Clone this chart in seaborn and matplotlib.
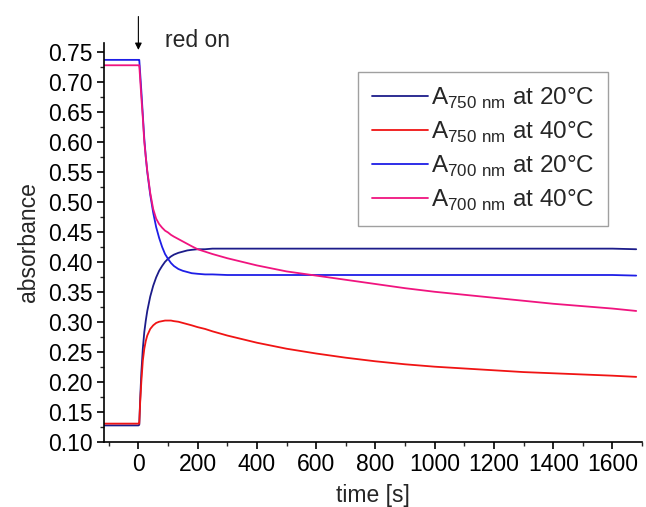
import matplotlib
matplotlib.use("Agg")
import matplotlib.pyplot as plt
from matplotlib.ticker import MultipleLocator, FormatStrFormatter
import seaborn as sns
import pandas as pd

time_s = [-116, -60, 0, 3, 6, 10, 15, 20, 25, 30, 40, 50, 60, 70, 80, 90, 100, 110, 120, 135,
          150, 165, 180, 200, 225, 250, 300, 350,
          400, 500, 600, 700, 800, 900, 1000, 1100, 1200, 1300, 1400, 1500, 1600, 1680]

a750_20 = [0.127, 0.127, 0.127, 0.128, 0.17, 0.215, 0.255, 0.283, 0.302, 0.318, 0.342, 0.36,
           0.374, 0.385, 0.393, 0.40, 0.405, 0.409, 0.412, 0.415, 0.417, 0.419, 0.420, 0.421,
           0.421, 0.422, 0.422, 0.422,
           0.422, 0.422, 0.422, 0.422, 0.422, 0.422, 0.422, 0.422, 0.422, 0.422, 0.422, 0.422,
           0.422, 0.421]
a750_40 = [0.13, 0.13, 0.13, 0.13, 0.165, 0.20, 0.235, 0.255, 0.268, 0.277, 0.288, 0.294,
           0.298, 0.300, 0.301, 0.302, 0.302, 0.302, 0.301, 0.300, 0.298, 0.296, 0.294, 0.291,
           0.288, 0.284, 0.277, 0.271,
           0.265, 0.255, 0.247, 0.240, 0.234, 0.229, 0.225, 0.222, 0.219, 0.216, 0.214, 0.212,
           0.210, 0.208]
a700_20 = [0.737, 0.737, 0.737, 0.737, 0.715, 0.685, 0.645, 0.605, 0.575, 0.55, 0.512, 0.482,
           0.458, 0.44, 0.425, 0.413, 0.405, 0.398, 0.393, 0.388, 0.385, 0.383, 0.381, 0.380,
           0.379, 0.379, 0.378, 0.378,
           0.378, 0.378, 0.378, 0.378, 0.378, 0.378, 0.378, 0.378, 0.378, 0.378, 0.378, 0.378,
           0.378, 0.377]
a700_40 = [0.728, 0.728, 0.728, 0.728, 0.705, 0.675, 0.64, 0.60, 0.575, 0.552, 0.515, 0.488,
           0.472, 0.463, 0.457, 0.452, 0.449, 0.445, 0.442, 0.438, 0.434, 0.430, 0.426, 0.421,
           0.417, 0.413, 0.406, 0.400,
           0.394, 0.384, 0.377, 0.370, 0.363, 0.356, 0.350, 0.345, 0.340, 0.335, 0.330, 0.326,
           0.322, 0.318]

labels = [r"A$_\mathregular{750\ nm}$ at 20°C", r"A$_\mathregular{750\ nm}$ at 40°C",
          r"A$_\mathregular{700\ nm}$ at 20°C", r"A$_\mathregular{700\ nm}$ at 40°C"]
colors = ["#1c1c8a", "#f01414", "#1e1ee6", "#f0147f"]

frames = []
for lab, vals in zip(labels, [a750_20, a750_40, a700_20, a700_40]):
    frames.append(pd.DataFrame({"time": time_s, "absorbance": vals, "series": lab}))
df = pd.concat(frames, ignore_index=True)

sns.set_style("ticks")
plt.rcParams["font.family"] = ["Liberation Sans", "DejaVu Sans"]
plt.rcParams["mathtext.fontset"] = "custom"
plt.rcParams["mathtext.rm"] = "Liberation Sans"

fig = plt.figure(figsize=(6.46, 5.07), dpi=100)
ax = fig.add_axes([0.161, 0.129, 0.833, 0.786])

sns.lineplot(data=df, x="time", y="absorbance", hue="series", hue_order=labels,
             palette=colors, linewidth=1.3, ax=ax, sort=False, estimator=None)

ax.set_xlim(-116, 1700)
ax.set_ylim(0.10, 0.765)
ax.xaxis.set_major_locator(MultipleLocator(200))
ax.xaxis.set_minor_locator(MultipleLocator(100))
ax.yaxis.set_major_locator(MultipleLocator(0.05))
ax.yaxis.set_minor_locator(MultipleLocator(0.025))
ax.yaxis.set_major_formatter(FormatStrFormatter("%.2f"))
ax.tick_params(which="major", direction="out", length=5, width=1.2, labelsize=16.5,
               colors="black", pad=3)
ax.tick_params(which="minor", direction="out", length=3, width=1.0)
for s in ["top", "right"]:
    ax.spines[s].set_visible(False)
for s in ["left", "bottom"]:
    ax.spines[s].set_linewidth(1.2)
    ax.spines[s].set_color("black")

ax.set_xlabel("time [s]", fontsize=16.5, labelpad=6)
ax.set_ylabel("absorbance", fontsize=16.5, labelpad=6)

leg = ax.legend(loc="upper right", bbox_to_anchor=(0.937, 0.927), fontsize=17.5, frameon=True,
                fancybox=False, edgecolor="#888888", handlelength=2.3, handletextpad=0.15,
                borderpad=0.55, labelspacing=0.36, borderaxespad=0)
leg.get_frame().set_linewidth(1.0)

ax.annotate("", xy=(0, 0.749), xytext=(0, 0.814), xycoords="data",
            arrowprops=dict(arrowstyle="-|>", color="black", lw=0.8, mutation_scale=10),
            annotation_clip=False)
ax.text(90, 0.7695, "red on", fontsize=16.5, ha="left", va="center")

fig.savefig("out.png", dpi=100)
